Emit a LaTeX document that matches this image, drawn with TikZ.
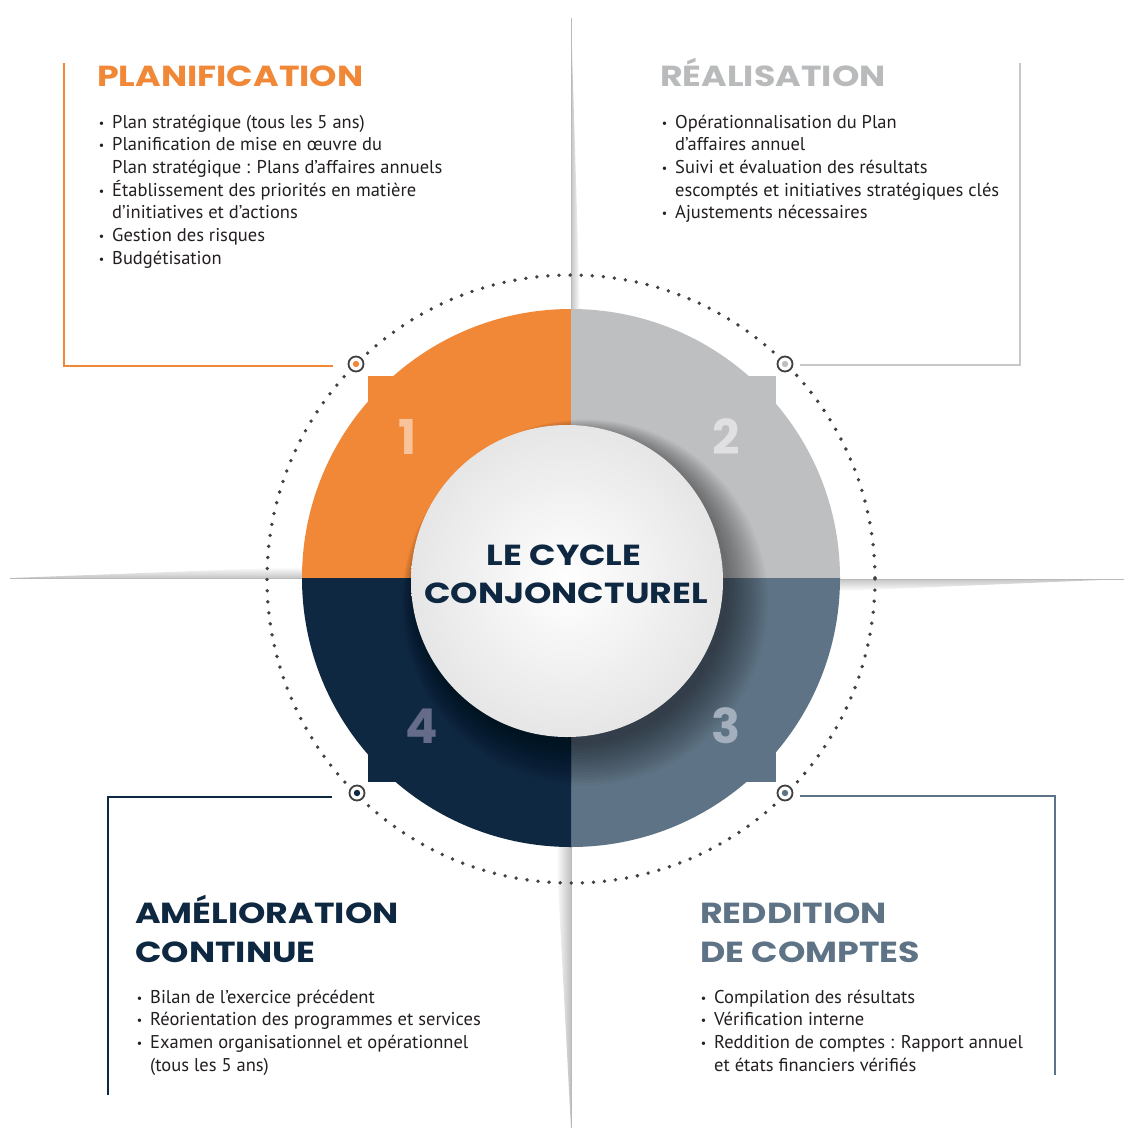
\documentclass[tikz,border=0pt]{standalone}
\usepackage{fontspec}
\setmainfont{PT Sans}
\newfontfamily\ttlfont{Poppins}
\definecolor{orng}{RGB}{240,136,56}
\definecolor{lgray}{RGB}{190,191,193}
\definecolor{slate}{RGB}{94,116,134}
\definecolor{navy}{RGB}{15,40,66}
\definecolor{txt}{RGB}{35,31,32}
\definecolor{dotc}{RGB}{65,65,68}
\definecolor{ttlgray}{RGB}{185,186,188}
\definecolor{frgray}{RGB}{200,200,202}
\definecolor{nA}{RGB}{248,194,155}
\definecolor{nB}{RGB}{224,224,226}
\definecolor{nC}{RGB}{163,175,188}
\definecolor{nD}{RGB}{100,108,138}
\definecolor{innerc}{RGB}{230,230,231}
\newcommand{\bul}{\llap{\raisebox{1pt}{\fontsize{12}{12}\selectfont•}\hspace{8pt}}}
\newcommand{\wide}[1]{\scalebox{1.2}[1]{#1}}
\begin{document}
\begin{tikzpicture}[x=1pt,y=-1pt,
  bodytxt/.style={anchor=base west, inner sep=0, text=txt, font=\fontsize{18.5}{22}\selectfont},
  ttl/.style={anchor=base west, inner sep=0, font=\ttlfont\bfseries\fontsize{29}{30}\selectfont},
  ctr/.style={anchor=base, inner sep=0, text=navy, font=\ttlfont\bfseries\fontsize{29}{30}\selectfont},
  num/.style={inner sep=0, font=\ttlfont\bfseries\fontsize{48}{50}\selectfont},
  frameline/.style={line width=1.6pt},
  marker/.style={circle, draw=dotc, line width=1.8pt, fill=white, minimum size=15pt, inner sep=0},
  foldline/.style={draw=gray!55, line width=0.7pt}]
\useasboundingbox (0,0) rectangle (1126,1130);
\fill[white] (0,0) rectangle (1126,1130);

% fold lines
\shade[top color=white, bottom color=gray!45] (10,578) -- (302,567) -- (302,578) -- cycle;
\draw[foldline] (10,578) -- (302,578);
\shade[top color=gray!45, bottom color=white] (840,579) -- (1124,579) -- (840,591) -- cycle;
\draw[foldline] (840,579) -- (1124,579);
\shade[left color=gray!45, right color=white] (571,18) -- (571,312) -- (580,312) -- cycle;
\draw[foldline] (571,18) -- (571,312);
\shade[left color=white, right color=gray!50] (556,846) -- (571,846) -- (571,1128) -- cycle;
\draw[foldline] (571,846) -- (571,1128);

% dotted circle
\draw[dotc, line width=3.8pt, line cap=round, dash pattern=on 0pt off 11.1pt] (571,579) circle (304);

% quadrants
\begin{scope}
\clip (0,0) rectangle (571,578);
\fill[orng] (571,578) circle (269);
\fill[orng] (368,376) rectangle (776,782);
\end{scope}
\begin{scope}
\clip (571,0) rectangle (1126,578);
\fill[lgray] (571,578) circle (269);
\fill[lgray] (368,376) rectangle (776,782);
\end{scope}
\begin{scope}
\clip (571,578) rectangle (1126,1130);
\fill[slate] (571,578) circle (269);
\fill[slate] (368,376) rectangle (776,782);
\end{scope}
\begin{scope}
\clip (0,578) rectangle (571,1130);
\fill[navy] (571,578) circle (269);
\fill[navy] (368,376) rectangle (776,782);
\end{scope}

% shadow of inner circle
\foreach \k in {0,...,15}{
  \fill[black, fill opacity=0.03] ({567+6+0.8*\k},{581+8+0.9*\k}) circle ({156+1.8*\k});
}
% inner circle
\shade[inner color=white, outer color=innerc] (567,581) circle (156);

% numbers
\node[num, text=nA] (n1) at (408,437) {1};
\node[num, text=nB] (n2) at (726,437) {2};
\node[num, text=nC] (n3) at (726,726) {3};
\node[num, text=nD] (n4) at (422,726) {4};

% center title
\node[ctr] (c1) at (564,565) {\wide{LE CYCLE}};
\node[ctr] (c2) at (566,603) {\wide{CONJONCTUREL}};

% markers
\node[marker] (m1) at (356,364) {};
\node[marker] (m2) at (785,364) {};
\node[marker] (m3) at (785,793) {};
\node[marker] (m4) at (357,793) {};
\fill[orng] (m1.center) circle (3.2);
\fill[lgray] (m2.center) circle (3.2);
\fill[slate] (m3.center) circle (3.2);
\fill[navy] (m4.center) circle (3.2);

% frames
\coordinate (a1) at (64,63);
\coordinate (a2) at (64,366);
\coordinate (a3) at (333,366);
\draw[frameline, orng] (a1) -- (a2) -- (a3);
\coordinate (b1) at (1020,63);
\coordinate (b2) at (1020,365);
\coordinate (b3) at (800,365);
\draw[frameline, frgray] (b1) -- (b2) -- (b3);
\coordinate (c3) at (800,796);
\coordinate (c4) at (1055,796);
\coordinate (c5) at (1055,1075);
\draw[frameline, slate] (c3) -- (c4) -- (c5);
\coordinate (d1) at (332,797);
\coordinate (d2) at (108,797);
\coordinate (d3) at (108,1095);
\draw[frameline, navy] (d1) -- (d2) -- (d3);

% titles
\node[ttl, text=orng] (t1) at (97,86) {\wide{PLANIFICATION}};
\node[ttl, text=ttlgray] (t2) at (660,86) {\wide{RÉALISATION}};
\node[ttl, text=navy] (t4a) at (135,923) {\wide{AMÉLIORATION}};
\node[ttl, text=navy] (t4b) at (135,962) {\wide{CONTINUE}};
\node[ttl, text=slate] (t3a) at (700,923) {\wide{REDDITION}};
\node[ttl, text=slate] (t3b) at (700,962) {\wide{DE COMPTES}};

% top-left list
\node[bodytxt] (p1) at (112,128) {\bul Plan stratégique (tous les 5 ans)};
\node[bodytxt] (p2) at (112,150.7) {\bul Planification de mise en œuvre du};
\node[bodytxt] (p3) at (112,173.4) {Plan stratégique : Plans d’affaires annuels};
\node[bodytxt] (p4) at (112,196.1) {\bul Établissement des priorités en matière};
\node[bodytxt] (p5) at (112,218.8) {d’initiatives et d’actions};
\node[bodytxt] (p6) at (112,241.5) {\bul Gestion des risques};
\node[bodytxt] (p7) at (112,264.2) {\bul Budgétisation};

% top-right list
\node[bodytxt] (r1) at (675,128) {\bul Opérationnalisation du Plan};
\node[bodytxt] (r2) at (675,150.7) {d’affaires annuel};
\node[bodytxt] (r3) at (675,173.4) {\bul Suivi et évaluation des résultats};
\node[bodytxt] (r4) at (675,196.1) {escomptés et initiatives stratégiques clés};
\node[bodytxt] (r5) at (675,218.8) {\bul Ajustements nécessaires};

% bottom-left list
\node[bodytxt] (l1) at (150,1003) {\bul Bilan de l’exercice précédent};
\node[bodytxt] (l2) at (150,1025.7) {\bul Réorientation des programmes et services};
\node[bodytxt] (l3) at (150,1048.4) {\bul Examen organisationnel et opérationnel};
\node[bodytxt] (l4) at (150,1071.1) {(tous les 5 ans)};

% bottom-right list
\node[bodytxt] (s1) at (714,1003) {\bul Compilation des résultats};
\node[bodytxt] (s2) at (714,1025.7) {\bul Vérification interne};
\node[bodytxt] (s3) at (714,1048.4) {\bul Reddition de comptes : Rapport annuel};
\node[bodytxt] (s4) at (714,1071.1) {et états financiers vérifiés};
\end{tikzpicture}
\end{document}
